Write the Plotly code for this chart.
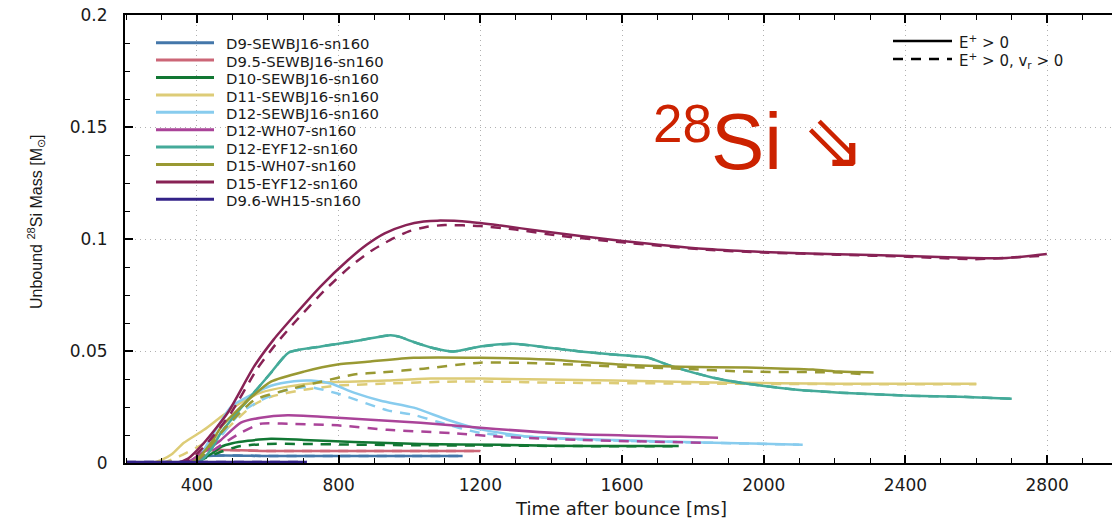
import plotly.graph_objects as go

# ---------------- data ----------------
names = ["D9-SEWBJ16-sn160", "D9.5-SEWBJ16-sn160", "D10-SEWBJ16-sn160", "D11-SEWBJ16-sn160",
         "D12-SEWBJ16-sn160", "D12-WH07-sn160", "D12-EYF12-sn160", "D15-WH07-sn160",
         "D15-EYF12-sn160", "D9.6-WH15-sn160"]
colors = ["#4477AA", "#CC6677", "#117733", "#DDCC77", "#88CCEE",
          "#AA4499", "#44AA99", "#999933", "#882255", "#332288"]

# solid: E+ > 0 ; dashed: E+ > 0, v_r > 0   (time in ms, mass in Msun)
d9_t = [200, 380, 410, 431, 600, 800, 1000, 1150]
d9_s = [0, 0, 0.0015, 0.0031, 0.0031, 0.0031, 0.0031, 0.0031]
d9_d = [0, 0, 0.0015, 0.0031, 0.0031, 0.0031, 0.0031, 0.0031]

d95_t = [200, 370, 400, 420, 600, 900, 1200]
d95_s = [0, 0, 0.003, 0.0054, 0.0054, 0.0054, 0.0054]
d95_d = [0, 0, 0.003, 0.0054, 0.0054, 0.0054, 0.0054]

d10_ts = [200, 380, 403, 440, 468, 500, 544, 609, 702, 843, 1031, 1257, 1400, 1600, 1760]
d10_s = [0, 0, 0.001, 0.004, 0.0072, 0.0088, 0.0099, 0.0108, 0.0103, 0.0094, 0.0085, 0.0081, 0.0077, 0.0076, 0.0076]
d10_td = [200, 390, 420, 468, 520, 600, 700, 843, 1031, 1257, 1400, 1600, 1750]
d10_d = [0, 0, 0.002, 0.005, 0.0075, 0.0085, 0.0085, 0.0082, 0.0079, 0.0078, 0.0076, 0.0075, 0.0075]

d11_ts = [200, 270, 299, 330, 363, 420, 468, 524, 580, 656, 750, 938, 1060, 1200, 1575, 1857, 2215, 2600]
d11_s = [0, 0, 0.0013, 0.004, 0.009, 0.0148, 0.0206, 0.0269, 0.0314, 0.0341, 0.0359, 0.0368, 0.0377, 0.0377,
         0.0368, 0.0359, 0.0354, 0.0354]
d11_td = [200, 300, 350, 400, 468, 516, 561, 609, 702, 797, 938, 1107, 1257, 1389, 1857, 2215, 2600]
d11_d = [0, 0, 0.003, 0.007, 0.013, 0.02, 0.026, 0.0296, 0.0327, 0.0345, 0.0355, 0.0363, 0.0363, 0.0359,
         0.0354, 0.0352, 0.0352]

d12s_ts = [200, 380, 403, 448, 496, 544, 609, 674, 722, 778, 843, 919, 1012, 1107, 1200, 1341, 1575, 1857, 2110]
d12s_s = [0, 0, 0.002, 0.0135, 0.0251, 0.0296, 0.0345, 0.0365, 0.0368, 0.0355, 0.0314, 0.0278, 0.0247, 0.0193,
          0.015, 0.0117, 0.0103, 0.009, 0.0082]
d12s_td = [200, 390, 420, 468, 520, 580, 640, 713, 797, 938, 1012, 1079, 1200, 1389, 1575, 1857, 2100]
d12s_d = [0, 0, 0.003, 0.012, 0.022, 0.028, 0.032, 0.034, 0.031, 0.0235, 0.0215, 0.0184, 0.0134, 0.0112,
          0.0100, 0.009, 0.0082]

d12w_ts = [200, 370, 392, 430, 468, 524, 580, 656, 750, 890, 1031, 1200, 1482, 1764, 1871]
d12w_s = [0, 0, 0.002, 0.006, 0.0103, 0.018, 0.0202, 0.0213, 0.0207, 0.0193, 0.018, 0.0157, 0.0128, 0.0117, 0.0113]
d12w_td = [200, 380, 420, 468, 524, 580, 656, 797, 938, 1124, 1257, 1482, 1840]
d12w_d = [0, 0, 0.003, 0.008, 0.0135, 0.0175, 0.0175, 0.0168, 0.0148, 0.0133, 0.0117, 0.0103, 0.009]

d12e_t = [200, 390, 411, 440, 468, 544, 609, 659, 750, 843, 947, 975, 1003, 1060, 1124, 1200, 1294, 1389,
          1482, 1575, 1671, 1744, 1857, 1970, 2094, 2215, 2413, 2553, 2700]
d12e_s = [0, 0, 0.001, 0.006, 0.0135, 0.0282, 0.0403, 0.0493, 0.052, 0.0543, 0.057, 0.0562, 0.0545, 0.0516,
          0.0498, 0.052, 0.0532, 0.0516, 0.0498, 0.0484, 0.0471, 0.043, 0.0381, 0.035, 0.0327, 0.0314, 0.030,
          0.0296, 0.0287]
d12e_d = [0, 0, 0.001, 0.006, 0.0135, 0.0282, 0.0403, 0.0493, 0.052, 0.0543, 0.057, 0.0562, 0.0545, 0.0516,
          0.0498, 0.052, 0.0532, 0.0516, 0.0498, 0.0484, 0.0471, 0.043, 0.0381, 0.035, 0.0327, 0.0314, 0.030,
          0.0296, 0.0287]

d15w_ts = [200, 380, 403, 440, 468, 544, 609, 702, 797, 890, 1012, 1200, 1389, 1595, 1764, 1953, 2139, 2215, 2310]
d15w_s = [0, 0, 0.002, 0.009, 0.016, 0.028, 0.0363, 0.0408, 0.044, 0.0453, 0.047, 0.047, 0.0462, 0.044, 0.043,
          0.0426, 0.0417, 0.0408, 0.0404]
d15w_td = [200, 390, 420, 468, 561, 656, 750, 843, 919, 1040, 1200, 1389, 1595, 1764, 1953, 2215, 2291]
d15w_d = [0, 0, 0.004, 0.0135, 0.028, 0.0327, 0.0363, 0.0395, 0.0404, 0.0421, 0.0448, 0.0444, 0.043, 0.0421,
          0.0408, 0.0404, 0.0395]

d15e_ts = [200, 340, 375, 420, 487, 561, 617, 673, 750, 826, 880, 930, 990, 1040, 1079, 1172, 1257, 1370, 1601,
           1840, 1998, 2207, 2404, 2590, 2686, 2799]
d15e_s = [0, 0, 0.002, 0.009, 0.0224, 0.043, 0.0552, 0.0655, 0.079, 0.0905, 0.0975, 0.1025, 0.1062, 0.1078,
          0.1082, 0.1076, 0.106, 0.1036, 0.0991, 0.0955, 0.0942, 0.0932, 0.0924, 0.0915, 0.0915, 0.0933]
d15e_td = [200, 350, 385, 430, 495, 570, 625, 680, 760, 835, 890, 945, 1000, 1050, 1100, 1200, 1300, 1420, 1601,
           1840, 2000, 2207, 2404, 2590, 2790]
d15e_d = [0, 0, 0.002, 0.009, 0.022, 0.042, 0.0535, 0.0635, 0.077, 0.088, 0.0945, 0.0995, 0.1035, 0.1055,
          0.1062, 0.1058, 0.1042, 0.1015, 0.0985, 0.0952, 0.0940, 0.0930, 0.0921, 0.0910, 0.0925]

d96_t = [200, 710]
d96_s = [0.0004, 0.0004]
d96_d = [0.0004, 0.0004]

series = [
    (d9_t, d9_s, d9_t, d9_d),
    (d95_t, d95_s, d95_t, d95_d),
    (d10_ts, d10_s, d10_td, d10_d),
    (d11_ts, d11_s, d11_td, d11_d),
    (d12s_ts, d12s_s, d12s_td, d12s_d),
    (d12w_ts, d12w_s, d12w_td, d12w_d),
    (d12e_t, d12e_s, d12e_t, d12e_d),
    (d15w_ts, d15w_s, d15w_td, d15w_d),
    (d15e_ts, d15e_s, d15e_td, d15e_d),
    (d96_t, d96_s, d96_t, d96_d),
]

x_ticks = [400, 800, 1200, 1600, 2000, 2400, 2800]
y_ticks = [0, 0.05, 0.1, 0.15, 0.2]
y_ticktext = ["0", "0.05", "0.1", "0.15", "0.2"]
crit_labels = ["E<sup>+</sup> > 0", "E<sup>+</sup> > 0, v<sub>r</sub> > 0"]

# ---------------- layout geometry ----------------
W, H = 1112, 518
L, T, B, R = 125, 15, 55, 0
PW, PH = W - L - R, H - T - B


def px2x(px):
    return (px - L) / PW


def py2y(py):
    return (T + PH - py) / PH


DASH = "10px,8px"
fig = go.Figure()

for (ts, vs, td, vd), c, n in zip(series, colors, names):
    fig.add_trace(go.Scatter(x=td, y=vd, mode="lines", name=n + " (v_r>0)",
                             line=dict(color=c, width=2.5, dash=DASH, shape="spline", smoothing=0.6),
                             showlegend=False))
    fig.add_trace(go.Scatter(x=ts, y=vs, mode="lines", name=n,
                             line=dict(color=c, width=2.5, shape="spline", smoothing=0.6),
                             showlegend=False))

shapes = []
annotations = []
FONT = "DejaVu Sans"

# series legend (top-left)
for i, (n, c) in enumerate(zip(names, colors)):
    yy = 42.7 + 17.4 * i
    shapes.append(dict(type="line", xref="paper", yref="paper",
                       x0=px2x(156), x1=px2x(214), y0=py2y(yy), y1=py2y(yy),
                       line=dict(color=c, width=3)))
    annotations.append(dict(xref="paper", yref="paper", x=px2x(226), y=py2y(yy + 1.2),
                            xanchor="left", yanchor="middle", showarrow=False, text=n,
                            borderpad=0, borderwidth=0,
                            font=dict(family=FONT, size=14.8, color="#1a1a1a")))

# criterion legend (top-right)
for i, (lab, dash) in enumerate(zip(crit_labels, ["solid", DASH])):
    yy = 41 + 18 * i
    shapes.append(dict(type="line", xref="paper", yref="paper",
                       x0=px2x(893), x1=px2x(952), y0=py2y(yy), y1=py2y(yy),
                       line=dict(color="black", width=2.5, dash=dash)))
    annotations.append(dict(xref="paper", yref="paper", x=px2x(959), y=py2y(yy + 1),
                            xanchor="left", yanchor="middle", showarrow=False, text=lab,
                            borderpad=0, borderwidth=0,
                            font=dict(family=FONT, size=15, color="#1a1a1a")))

# red 28Si label
RED = "#CC2200"
annotations.append(dict(xref="paper", yref="paper", x=px2x(651), y=py2y(124), xanchor="left",
                        yanchor="middle", showarrow=False, text="28",
                        font=dict(family="Liberation Sans", size=53, color=RED)))
annotations.append(dict(xref="paper", yref="paper", x=px2x(709), y=py2y(141), xanchor="left",
                        yanchor="middle", showarrow=False, text="Si",
                        font=dict(family="Liberation Sans", size=80, color=RED)))
annotations.append(dict(xref="paper", yref="paper", x=px2x(834), y=py2y(141), xanchor="center",
                        yanchor="middle", showarrow=False, text="⇘",
                        font=dict(family=FONT, size=76, color=RED)))

# axis titles
annotations.append(dict(xref="paper", yref="paper", x=px2x(621), y=py2y(508), xanchor="center",
                        yanchor="middle", showarrow=False, text="Time after bounce [ms]",
                        font=dict(family=FONT, size=18, color="#1a1a1a")))
annotations.append(dict(xref="paper", yref="paper", x=px2x(36), y=py2y(222), xanchor="center",
                        yanchor="middle", showarrow=False, textangle=-90,
                        text="Unbound <sup>28</sup>Si Mass [M<sub>⊙</sub>]",
                        font=dict(family="Liberation Sans", size=16, color="#1a1a1a")))

fig.update_layout(
    width=W, height=H,
    margin=dict(l=L, r=R, t=T, b=B),
    paper_bgcolor="white", plot_bgcolor="white",
    shapes=shapes, annotations=annotations,
    showlegend=False,
    xaxis=dict(range=[197, 2983], tickvals=x_ticks, ticks="inside", ticklen=8, tickwidth=1.5,
               tickcolor="black", showline=True, linewidth=2, linecolor="black", mirror="ticks",
               showgrid=True, gridcolor="#b0b0b0", griddash="1px,4px", gridwidth=1, zeroline=False,
               tickfont=dict(family=FONT, size=17, color="#1a1a1a"), ticklabelstandoff=6,
               minor=dict(dtick=100, tick0=0, ticks="inside", ticklen=5, tickwidth=1.2,
                          tickcolor="black", showgrid=False)),
    yaxis=dict(range=[0, 0.2], tickvals=y_ticks, ticktext=y_ticktext, ticks="inside", ticklen=8,
               tickwidth=1.5, tickcolor="black", showline=True, linewidth=2, linecolor="black",
               mirror=False, showgrid=True, gridcolor="#b0b0b0", griddash="1px,4px", gridwidth=1,
               zeroline=False, tickfont=dict(family=FONT, size=17, color="#1a1a1a"),
               ticklabelstandoff=12,
               minor=dict(dtick=0.0125, tick0=0, ticks="inside", ticklen=5, tickwidth=1.2,
                          tickcolor="black", showgrid=False)),
)

fig.write_html("out.html")
